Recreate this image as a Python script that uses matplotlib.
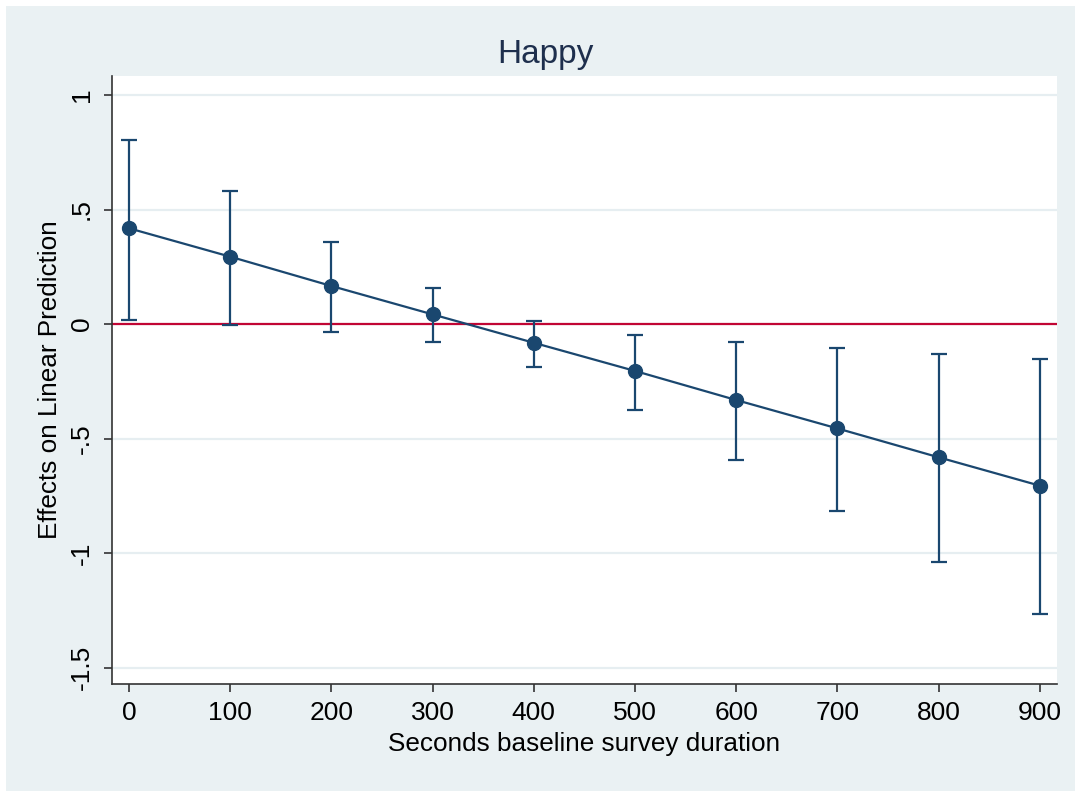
import matplotlib
matplotlib.use("Agg")
import matplotlib.pyplot as plt
from matplotlib.patches import Rectangle

plt.rcParams['font.family'] = ['Liberation Sans', 'DejaVu Sans']

title = "Happy"
xlabel = "Seconds baseline survey duration"
ylabel = "Effects on Linear Prediction"
durations = [0, 100, 200, 300, 400, 500, 600, 700, 800, 900]
effects = [0.418, 0.294, 0.166, 0.042, -0.082, -0.205, -0.332, -0.456, -0.582, -0.706]
ci_high = [0.803, 0.581, 0.359, 0.156, 0.012, -0.047, -0.080, -0.106, -0.130, -0.153]
ci_low = [0.017, -0.004, -0.035, -0.077, -0.186, -0.376, -0.594, -0.815, -1.041, -1.266]
yticks = [1, 0.5, 0, -0.5, -1, -1.5]
ytick_labels = ["1", ".5", "0", "-.5", "-1", "-1.5"]
xticks = [0, 100, 200, 300, 400, 500, 600, 700, 800, 900]

W, H = 1075, 791
fig = plt.figure(figsize=(W / 100, H / 100), dpi=100, facecolor='white')
bg = '#eaf1f3'
fig.patches.append(Rectangle((6 / W, -0.01), 1.01, (H - 6) / H + 0.01, transform=fig.transFigure,
                             facecolor=bg, edgecolor='none', zorder=-5))

ax = fig.add_axes([112 / W, (H - 684) / H, (1057 - 112) / W, (684 - 76) / H])
ax.set_zorder(2)
ax.set_facecolor('white')

navy = '#1a476f'
lower = [e - l for e, l in zip(effects, ci_low)]
upper = [h - e for e, h in zip(effects, ci_high)]

ax.axhline(0, color='#c10534', lw=1.6, zorder=2)
ax.errorbar(durations, effects, yerr=[lower, upper], fmt='none', ecolor=navy,
            elinewidth=1.6, capsize=6, capthick=1.6, zorder=3)
ax.plot(durations, effects, color=navy, lw=1.6, marker='o', markersize=10,
        markerfacecolor=navy, markeredgecolor=navy, zorder=4)

ax.set_xlim(-16.8, 917)
ax.set_ylim(-1.572, 1.083)
ax.set_yticks(yticks)
ax.set_yticklabels(ytick_labels, rotation=90, va='center')
ax.set_xticks(xticks)
ax.grid(axis='y', color='#e6eef1', lw=1.6, zorder=1)
ax.set_axisbelow(True)

for s in ['top', 'right']:
    ax.spines[s].set_visible(False)
for s in ['left', 'bottom']:
    ax.spines[s].set_color('#333333')
    ax.spines[s].set_linewidth(1.2)

ax.tick_params(axis='both', direction='out', length=6, width=1.2, color='#333333',
               labelsize=19, labelcolor='black')
ax.tick_params(axis='y', pad=7)
ax.tick_params(axis='x', pad=6)

ax.set_xlabel(xlabel, fontsize=18.8, labelpad=5)
ax.set_ylabel(ylabel, fontsize=18.8, labelpad=6)
fig.text(545 / W, 1 - 54 / H, title, fontsize=24, color='#1e2f4d',
         ha='center', va='center')

fig.savefig('out.png', dpi=100, facecolor='white')
